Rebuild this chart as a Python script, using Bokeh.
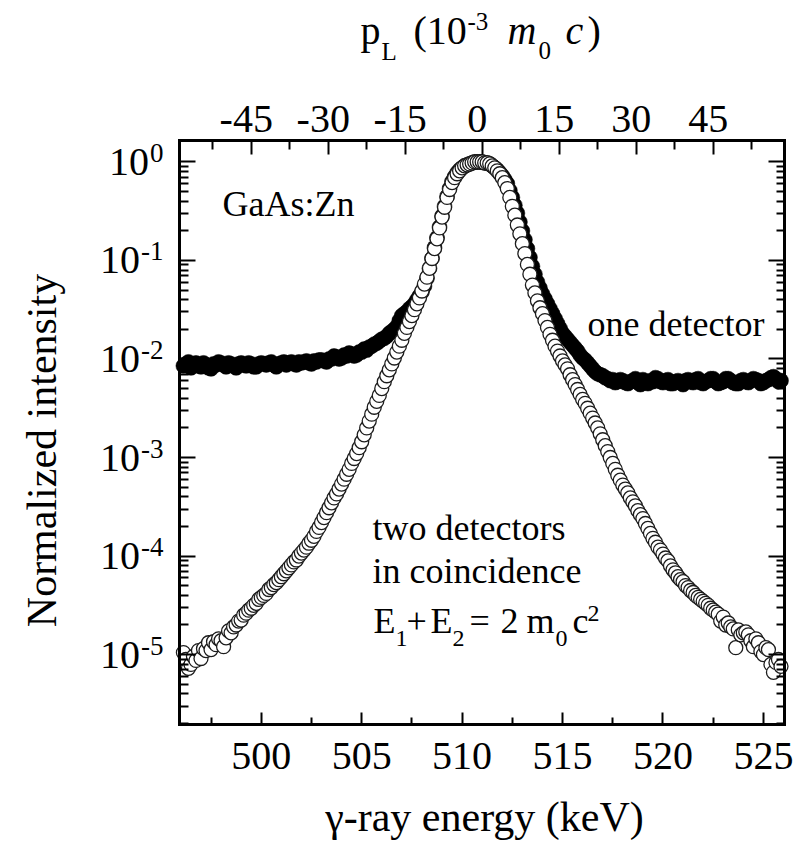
import numpy as np
from math import pi, log10
from bokeh.plotting import figure
from bokeh.models import (Range1d, LinearAxis, LogAxis, FixedTicker, LabelSet,
                          ColumnDataSource, CustomJSTickFormatter)
from bokeh.embed import file_html
from bokeh.resources import INLINE

# ---------------- data ----------------
# channel energies (keV), 0.125 keV spacing, 496.125 ... 525.875
energy = np.round(np.arange(496.125, 525.9, 0.125), 3)

# two detectors in coincidence: log10(normalized intensity)
log_two = [
    -4.98, -5.05, -5.14, -5.10, -5.02, -5.06, -4.96, -5.04, -4.94, -4.96, -4.88, -4.95, -4.87, -4.90, -4.84, -4.86,
    -4.92, -4.83, -4.76, -4.78, -4.72, -4.70, -4.66, -4.65, -4.60, -4.58, -4.55, -4.53, -4.50, -4.48, -4.44, -4.42,
    -4.40, -4.38, -4.34, -4.32, -4.29, -4.27, -4.24, -4.21, -4.18, -4.15, -4.12, -4.09, -4.06, -4.04, -4.00, -3.97,
    -3.94, -3.91, -3.87, -3.84, -3.80, -3.75, -3.71, -3.66, -3.61, -3.56, -3.51, -3.46, -3.41, -3.37, -3.32, -3.27,
    -3.22, -3.17, -3.12, -3.06, -3.01, -2.96, -2.90, -2.84, -2.77, -2.70, -2.63, -2.56, -2.49, -2.43, -2.37, -2.30,
    -2.23, -2.17, -2.11, -2.05, -1.99, -1.93, -1.87, -1.81, -1.74, -1.68, -1.62, -1.56, -1.50, -1.44, -1.38, -1.31,
    -1.24, -1.17, -1.08, -0.98, -0.88, -0.78, -0.67, -0.56, -0.46, -0.36, -0.28, -0.21, -0.16, -0.12, -0.09, -0.06,
    -0.04, -0.03, -0.02, -0.01, 0.00, 0.00, 0.00, 0.00, -0.01, -0.01, -0.02, -0.04, -0.06, -0.09, -0.12, -0.16,
    -0.21, -0.27, -0.36, -0.45, -0.54, -0.64, -0.73, -0.83, -0.93, -1.04, -1.14, -1.25, -1.33, -1.41, -1.48, -1.54,
    -1.61, -1.68, -1.75, -1.81, -1.87, -1.92, -1.97, -2.02, -2.06, -2.10, -2.16, -2.21, -2.26, -2.31, -2.36, -2.41,
    -2.45, -2.50, -2.55, -2.60, -2.65, -2.70, -2.76, -2.82, -2.88, -2.94, -3.00, -3.06, -3.12, -3.18, -3.23, -3.28,
    -3.32, -3.36, -3.41, -3.45, -3.49, -3.54, -3.58, -3.62, -3.67, -3.72, -3.77, -3.82, -3.86, -3.91, -3.94, -3.98,
    -4.02, -4.05, -4.10, -4.14, -4.17, -4.21, -4.24, -4.26, -4.30, -4.32, -4.35, -4.37, -4.40, -4.42, -4.44, -4.46,
    -4.48, -4.50, -4.53, -4.55, -4.57, -4.59, -4.66, -4.62, -4.70, -4.68, -4.72, -4.74, -4.93, -4.75, -4.80, -4.78,
    -4.77, -4.80, -4.86, -4.92, -4.84, -4.88, -4.97, -5.00, -4.93, -4.95, -5.10, -5.18, -5.08, -5.05, -5.12,
]

# one detector: log10(normalized intensity)
log_one = [
    -2.07, -2.05, -2.03, -2.09, -2.06, -2.04, -2.07, -2.08, -2.04, -2.06, -2.09, -2.10, -2.05, -2.06, -2.03, -2.04,
    -2.06, -2.08, -2.04, -2.05, -2.07, -2.09, -2.05, -2.04, -2.06, -2.07, -2.04, -2.05, -2.08, -2.08, -2.05, -2.04,
    -2.05, -2.06, -2.04, -2.03, -2.06, -2.08, -2.05, -2.04, -2.03, -2.06, -2.04, -2.03, -2.05, -2.06, -2.03, -2.04,
    -2.03, -2.02, -2.04, -2.05, -2.02, -2.03, -2.01, -2.01, -2.02, -2.03, -2.00, -2.00, -1.97, -1.98, -2.00, -1.99,
    -1.96, -1.97, -1.94, -1.95, -1.97, -1.96, -1.93, -1.93, -1.90, -1.91, -1.88, -1.87, -1.85, -1.84, -1.82, -1.80,
    -1.79, -1.77, -1.74, -1.72, -1.70, -1.67, -1.61, -1.56, -1.54, -1.52, -1.49, -1.47, -1.44, -1.40, -1.36, -1.32,
    -1.26, -1.18, -1.08, -0.98, -0.87, -0.77, -0.66, -0.55, -0.45, -0.35, -0.27, -0.20, -0.15, -0.11, -0.08, -0.06,
    -0.04, -0.03, -0.02, -0.01, 0.00, 0.00, 0.00, 0.00, -0.01, -0.01, -0.02, -0.04, -0.06, -0.08, -0.11, -0.14,
    -0.18, -0.22, -0.29, -0.36, -0.44, -0.52, -0.61, -0.70, -0.79, -0.88, -0.97, -1.06, -1.14, -1.22, -1.28, -1.34,
    -1.39, -1.44, -1.49, -1.54, -1.59, -1.64, -1.69, -1.74, -1.77, -1.80, -1.83, -1.86, -1.89, -1.92, -1.96, -1.99,
    -2.01, -2.04, -2.07, -2.10, -2.13, -2.15, -2.16, -2.17, -2.19, -2.20, -2.22, -2.21, -2.24, -2.23, -2.21, -2.22,
    -2.24, -2.25, -2.23, -2.22, -2.20, -2.24, -2.26, -2.21, -2.23, -2.25, -2.22, -2.23, -2.19, -2.20, -2.23, -2.24,
    -2.22, -2.21, -2.25, -2.25, -2.23, -2.22, -2.24, -2.26, -2.22, -2.21, -2.23, -2.24, -2.21, -2.20, -2.24, -2.25,
    -2.23, -2.22, -2.20, -2.20, -2.23, -2.25, -2.24, -2.23, -2.20, -2.20, -2.22, -2.24, -2.25, -2.25, -2.22, -2.21,
    -2.23, -2.24, -2.22, -2.20, -2.21, -2.22, -2.25, -2.24, -2.22, -2.21, -2.19, -2.18, -2.20, -2.23, -2.22,
]

two = 10.0 ** np.array(log_two)
one = 10.0 ** np.array(log_one)

x_ticks = [500, 505, 510, 515, 520, 525]
x_minor = [497.5, 502.5, 507.5, 512.5, 517.5, 522.5]
p_ticks = [-45, -30, -15, 0, 15, 30, 45]
p_minor = [-52.5, -37.5, -22.5, -7.5, 7.5, 22.5, 37.5, 52.5]
y_exps = [0, -1, -2, -3, -4, -5]

# ---------------- geometry ----------------
W, H = 796, 845
BOX_L, BOX_R, BOX_T, BOX_B = 179, 784, 140, 724   # plot box in page pixels
X0, X1 = 495.93, 526.05                           # data range of the box
Y0, Y1 = 1.95e-6, 1.65
E_CENTER = 511.0                                  # m0c^2 in keV


def p_of_e(e):
    # longitudinal momentum in 10^-3 m0 c : pL = 2 (E - m0c^2) / c
    return (e - E_CENTER) * 2000.0 / E_CENTER


sxk = (BOX_R - BOX_L) / (X1 - X0)
XL, XR = X0 - BOX_L / sxk, X1 + (W - BOX_R) / sxk
ly0, ly1 = log10(Y0), log10(Y1)
syk = (BOX_B - BOX_T) / (ly1 - ly0)
YB, YT = 10 ** (ly0 - (H - BOX_B) / syk), 10 ** (ly1 + BOX_T / syk)

FONT = "Liberation Serif"

p = figure(width=W, height=H, x_range=Range1d(XL, XR), y_range=Range1d(YB, YT),
           y_axis_type="log", x_axis_location=None, y_axis_location=None,
           output_backend="svg", toolbar_location=None,
           min_border=0, min_border_left=0, min_border_right=0,
           min_border_top=0, min_border_bottom=0)
p.background_fill_color = "white"
p.border_fill_color = "white"
p.outline_line_color = None
p.xgrid.grid_line_color = None
p.ygrid.grid_line_color = None
p.extra_x_ranges = {"p": Range1d(p_of_e(XL), p_of_e(XR))}

blank = CustomJSTickFormatter(code="return ''")


def style(ax, maj, mnr):
    ax.axis_line_color = "black"
    ax.axis_line_width = 3
    ax.axis_line_cap = "square"
    ax.major_tick_in = maj
    ax.major_tick_out = 0
    ax.minor_tick_in = mnr
    ax.minor_tick_out = 0
    ax.major_tick_line_width = 2
    ax.minor_tick_line_width = 2
    ax.major_tick_line_color = "black"
    ax.minor_tick_line_color = "black"
    ax.formatter = blank


y_major = [10.0 ** k for k in y_exps]
y_minor = [m * 10.0 ** k for k in range(-6, 1) for m in range(2, 10)
           if Y0 < m * 10.0 ** k < Y1]

left = LogAxis(ticker=FixedTicker(ticks=y_major, minor_ticks=y_minor),
               fixed_location=X0, bounds=(Y0, Y1))
right = LogAxis(ticker=FixedTicker(ticks=y_major, minor_ticks=y_minor),
                fixed_location=X1, bounds=(Y0, Y1))
below = LinearAxis(ticker=FixedTicker(ticks=x_ticks, minor_ticks=x_minor),
                   fixed_location=Y0, bounds=(X0, X1))
above = LinearAxis(x_range_name="p", ticker=FixedTicker(ticks=p_ticks, minor_ticks=p_minor),
                   fixed_location=Y1, bounds=(p_of_e(X0), p_of_e(X1)))
style(left, 16, 9)
style(right, 16, 8)
style(below, 12, 7)
style(above, 14, 9)
p.add_layout(left, "left")
p.add_layout(right, "right")
p.add_layout(below, "below")
p.add_layout(above, "above")

# ---------------- data marks ----------------
p.scatter(energy, one, marker="circle", size=15, fill_color="black",
          line_color="black", line_width=0.5)
p.scatter(energy, two, marker="circle", size=14, fill_color="white",
          line_color="#1c1c1c", line_width=1.3)

# ---------------- tick labels ----------------
bx = ColumnDataSource(dict(x=x_ticks, y=[Y0] * len(x_ticks), t=[str(v) for v in x_ticks]))
p.add_layout(LabelSet(x="x", y="y", text="t", source=bx, text_align="center",
                      text_baseline="alphabetic", y_offset=-44,
                      text_font=FONT, text_font_size="40px", text_color="black"))

tx = ColumnDataSource(dict(x=p_ticks, y=[Y1] * len(p_ticks), t=[str(v) for v in p_ticks]))
p.add_layout(LabelSet(x="x", y="y", text="t", source=tx, x_range_name="p",
                      text_align="center", text_baseline="alphabetic",
                      x_offset=-5, y_offset=9,
                      text_font=FONT, text_font_size="40px", text_color="black"))

exp_txt = [str(k) for k in y_exps]
exp_w = [13.5 if k == 0 else 22.5 for k in y_exps]
ys = ColumnDataSource(dict(x=[X0] * len(y_exps), y=y_major, base=["10"] * len(y_exps),
                           ex=exp_txt, bo=[-17 - w for w in exp_w]))
p.add_layout(LabelSet(x="x", y="y", text="base", source=ys, x_offset="bo", y_offset=-13,
                      text_align="right", text_baseline="alphabetic",
                      text_font=FONT, text_font_size="40px", text_color="black"))
p.add_layout(LabelSet(x="x", y="y", text="ex", source=ys, x_offset=-16, y_offset=0,
                      text_align="right", text_baseline="alphabetic",
                      text_font=FONT, text_font_size="27px", text_color="black"))


# ---------------- texts (positions in page px, anchored to the plot box) ----------------
def txt(s, left_px, base_px, size, style="normal", align="left", angle=0.0):
    src = ColumnDataSource(dict(x=[X0], y=[Y1], t=[s]))
    p.add_layout(LabelSet(x="x", y="y", text="t", source=src,
                          x_offset=left_px - BOX_L, y_offset=BOX_T - base_px,
                          text_font=FONT, text_font_size=f"{size}px",
                          text_font_style=style, text_align=align,
                          text_baseline="alphabetic", text_color="black", angle=angle))


# axis titles
txt("γ-ray energy (keV)", 484, 830, 42, align="center")
txt("Normalized intensity", 55, 450, 42, align="center", angle=pi / 2)

# top title: p_L (10^-3 m0 c)
txt("p", 360, 43, 40)
txt("L", 381, 59, 25)
txt("(10", 413, 43, 40)
txt("-3", 467, 29, 25)
txt("m", 507, 43, 40, style="italic")
txt("0", 538, 58, 25)
txt("c", 565, 43, 40, style="italic")
txt(")", 587, 43, 40)

# annotations
txt("GaAs:Zn", 222, 215, 36)
txt("one detector", 587, 335, 36)
txt("two detectors", 372, 539, 36)
txt("in coincidence", 372, 582, 36)
txt("E", 373, 632, 36)
txt("1", 395, 645, 24)
txt("+", 406, 632, 36)
txt("E", 430, 632, 36)
txt("2", 452, 645, 24)
txt("=", 469, 632, 36)
txt("2", 500, 632, 36)
txt("m", 526, 632, 36)
txt("0", 555, 645, 24)
txt("c", 572, 632, 36)
txt("2", 587, 620, 24)

open("out.html", "w").write(file_html(p, INLINE))
